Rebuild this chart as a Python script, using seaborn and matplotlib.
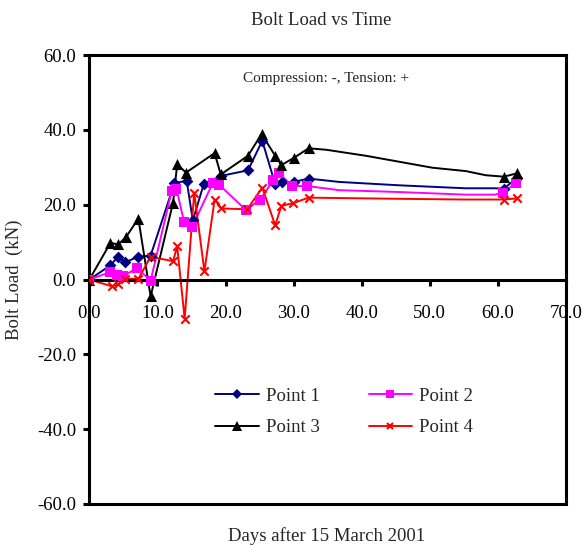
import numpy as np
import pandas as pd
import seaborn as sns
import matplotlib.pyplot as plt
from matplotlib.lines import Line2D

# readings (days after 15 March 2001, bolt load kN)
p1_days = [0, 3.1, 4.2, 5.3, 7.1, 9.0, 12.5, 14.3, 15.2, 16.8, 19.3, 23.3, 25.4, 27.3, 28.3, 30.0, 32.2, 60.9, 62.8]
p1_load = [0, 3.8, 6.1, 4.6, 6.1, 6.4, 25.8, 26.4, 15.8, 25.5, 27.7, 29.2, 37.1, 25.5, 26.1, 26.1, 27.0, 24.3, 27.2]

p2_days = [0, 3.1, 4.0, 5.0, 7.0, 9.0, 12.1, 12.8, 13.9, 15.1, 18.1, 19.1, 23.0, 25.1, 27.0, 27.9, 29.8, 32.0, 60.7, 62.6]
p2_load = [0, 2.0, 1.1, 0.9, 3.1, -0.3, 23.7, 24.3, 15.5, 14.1, 25.7, 25.3, 18.6, 21.4, 26.5, 28.4, 25.0, 25.0, 23.2, 25.7]

p3_days = [0, 3.1, 4.25, 5.4, 7.2, 9.0, 12.3, 12.9, 14.2, 18.4, 19.3, 23.3, 25.3, 27.3, 28.2, 30.1, 32.2, 60.9, 62.8]
p3_load = [0, 9.8, 9.4, 11.4, 16.3, -4.5, 20.6, 30.8, 28.6, 33.8, 28.1, 33.1, 38.9, 33.1, 30.6, 32.6, 35.1, 27.5, 28.4]

p4_days = [0, 3.3, 4.2, 5.3, 7.2, 9.0, 12.3, 12.9, 14.0, 15.4, 16.9, 18.4, 19.4, 23.2, 25.4, 27.3, 28.2, 29.9, 32.2, 60.9, 62.8]
p4_load = [0, -1.8, -1.3, 0.2, 0.2, 6.1, 4.9, 8.9, -10.5, 23.2, 2.2, 21.4, 19.0, 18.8, 24.6, 14.5, 19.7, 20.4, 21.9, 21.4, 21.7]

# line-only readings between day 32 and day 61 (no markers in the original)
p1_trend_days = [36.7, 45.5, 55.3, 59.6]
p1_trend_load = [26.1, 25.2, 24.4, 24.4]
p2_trend_days = [36.7, 45.5, 55.3, 59.6]
p2_trend_load = [23.9, 23.4, 22.7, 22.7]
p3_trend_days = [34.8, 40.6, 50.4, 55.3, 58.2]
p3_trend_load = [34.7, 33.1, 29.9, 29.0, 27.9]
p4_trend_days = [45.0, 55.0]
p4_trend_load = [21.6, 21.4]

labels = ["Point 1", "Point 2", "Point 3", "Point 4"]
colors = ["#000080", "#FF00FF", "#000000", "#FF0000"]
markers = ["D", "s", "^", "x"]
msizes = [6, 7, 8, 6]

sns.set_theme(style="white")
plt.rcParams["font.family"] = ["Liberation Serif", "DejaVu Serif"]

fig = plt.figure(figsize=(5.84, 5.46), dpi=100)
ax = fig.add_axes([0.153, 0.077, 0.816, 0.822])

series = [
    (p1_days, p1_load, p1_trend_days, p1_trend_load),
    (p2_days, p2_load, p2_trend_days, p2_trend_load),
    (p3_days, p3_load, p3_trend_days, p3_trend_load),
    (p4_days, p4_load, p4_trend_days, p4_trend_load),
]

for (d, v, td, tv), lab, c, m, ms in zip(series, labels, colors, markers, msizes):
    line = pd.DataFrame({"day": list(d) + list(td), "load": list(v) + list(tv)})
    line = line.sort_values("day")
    sns.lineplot(data=line, x="day", y="load", color=c, lw=1.4, sort=False,
                 estimator=None, ax=ax, legend=False)
    pts = pd.DataFrame({"day": d, "load": v})
    if m == "x":
        sns.scatterplot(data=pts, x="day", y="load", marker=m, color=c,
                        s=ms ** 2, linewidth=1.5, ax=ax, legend=False, zorder=3)
    else:
        sns.scatterplot(data=pts, x="day", y="load", marker=m, color=c,
                        s=ms ** 2, linewidth=0, ax=ax, legend=False, zorder=3)

ax.set_xlim(0, 70)
ax.set_ylim(-60, 60)
ax.set_xticks(np.arange(0, 71, 10))
ax.set_yticks(np.arange(-60, 61, 20))
ax.set_xticklabels([f"{t:.1f}" for t in np.arange(0, 71, 10)])
ax.set_yticklabels([f"{t:.1f}" for t in np.arange(-60, 61, 20)])

# frame + x axis crossing at zero
for s in ax.spines.values():
    s.set_linewidth(2.2)
    s.set_color("black")
ax.spines["bottom"].set_position(("data", 0))
ax.axhline(-60, color="black", lw=2.2, clip_on=False)
ax.tick_params(axis="both", direction="out", length=4.5, width=2.2,
               labelsize=13.5, colors="black")
ax.tick_params(axis="x", pad=14, bottom=True)
ax.tick_params(axis="y", pad=5, left=True)

ax.set_xlabel("")
ax.set_ylabel("Bolt Load  (kN)", fontsize=13.5, labelpad=10)
fig.text(0.56, 0.01, "Days after 15 March 2001", ha="center", fontsize=13.5)
fig.text(0.55, 0.955, "Bolt Load vs Time", ha="center", fontsize=13.5)
ax.text(0.497, 0.949, "Compression: -, Tension: +", transform=ax.transAxes,
        ha="center", va="center", fontsize=11)

# row-major legend order like the original (1 2 / 3 4)
handles = [Line2D([0], [0], color=c, lw=1.4, marker=m, markersize=ms - 1,
                  markeredgewidth=1.5 if m == "x" else 0, markerfacecolor=c)
           for c, m, ms in zip(colors, markers, msizes)]
order = [0, 2, 1, 3]
ax.legend([handles[i] for i in order], [labels[i] for i in order], ncol=2,
          loc="center", bbox_to_anchor=(0.535, 0.205),
          frameon=False, fontsize=13.5, handlelength=2.3, columnspacing=2.6,
          labelspacing=0.75, handletextpad=0.4)

fig.savefig("out.png", dpi=100)
